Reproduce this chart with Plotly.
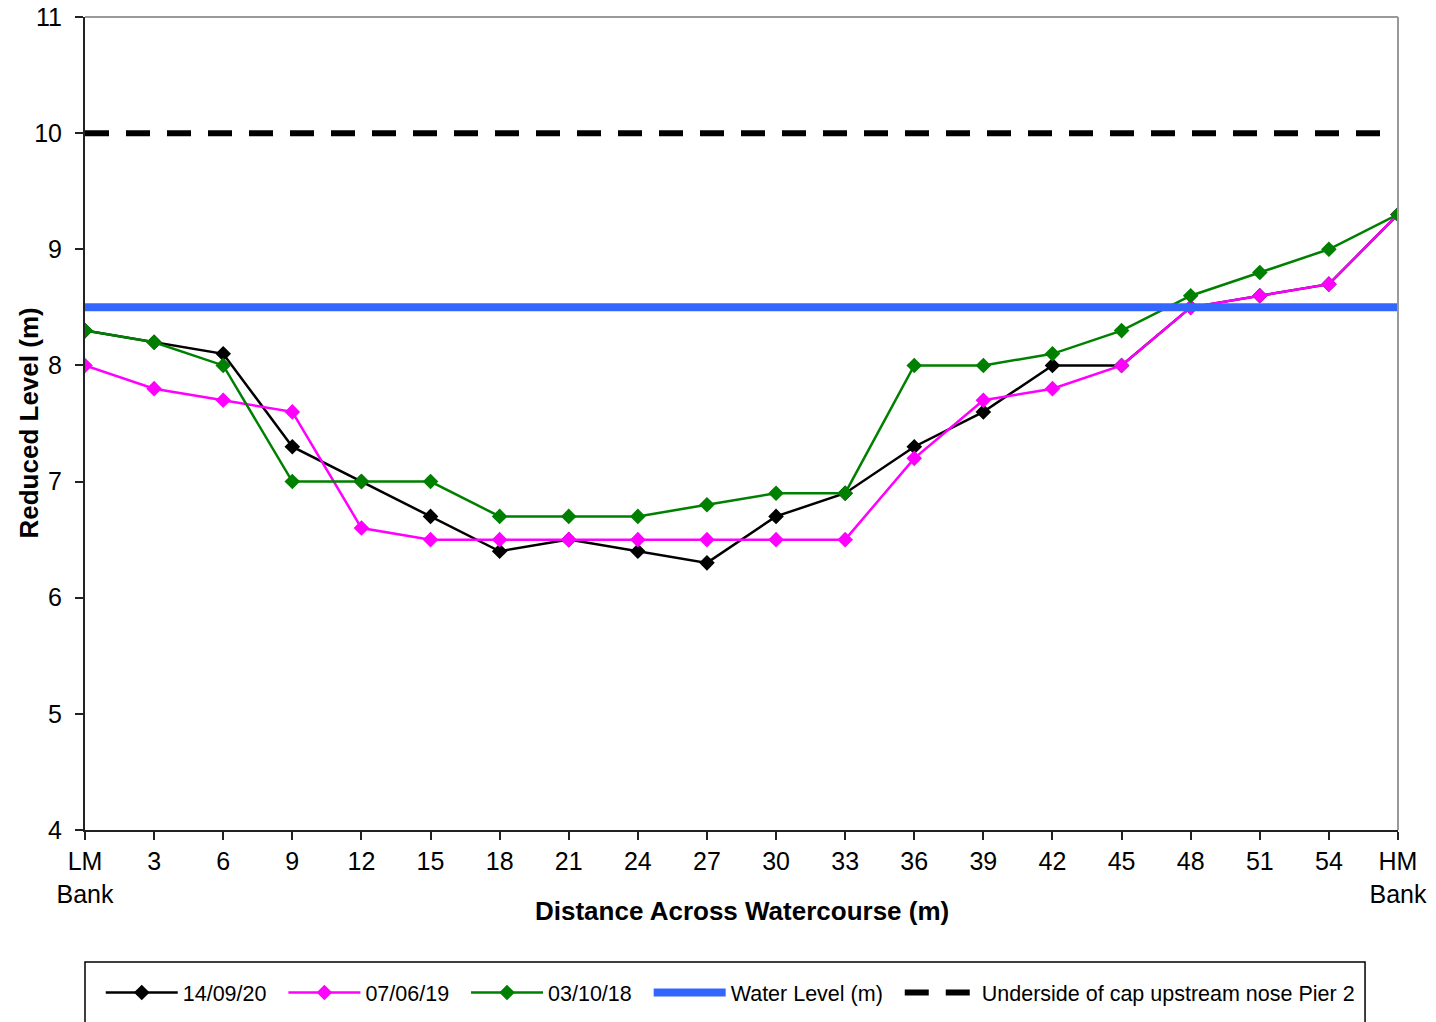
import plotly.graph_objects as go

distances = [0, 3, 6, 9, 12, 15, 18, 21, 24, 27, 30, 33, 36, 39, 42, 45, 48, 51, 54, 57]
tick_labels = ["LM<br>Bank", "3", "6", "9", "12", "15", "18", "21", "24", "27", "30",
               "33", "36", "39", "42", "45", "48", "51", "54", "HM<br>Bank"]

level_140920 = [8.3, 8.2, 8.1, 7.3, 7.0, 6.7, 6.4, 6.5, 6.4, 6.3, 6.7, 6.9, 7.3, 7.6, 8.0, 8.0, 8.5, 8.6, 8.7, 9.3]
level_070619 = [8.0, 7.8, 7.7, 7.6, 6.6, 6.5, 6.5, 6.5, 6.5, 6.5, 6.5, 6.5, 7.2, 7.7, 7.8, 8.0, 8.5, 8.6, 8.7, 9.3]
level_031018 = [8.3, 8.2, 8.0, 7.0, 7.0, 7.0, 6.7, 6.7, 6.7, 6.8, 6.9, 6.9, 8.0, 8.0, 8.1, 8.3, 8.6, 8.8, 9.0, 9.3]
water_level = 8.5
cap_level = 10.0

FONT = "Liberation Sans, Arial, sans-serif"
PAD = "\u00a0\u00a0"

fig = go.Figure()
for name, vals, col in [("14/09/20", level_140920, "#000000"),
                        ("07/06/19", level_070619, "#FF00FF"),
                        ("03/10/18", level_031018, "#008000")]:
    fig.add_trace(go.Scatter(x=distances, y=vals, name=name + PAD, mode="lines+markers",
                             line=dict(color=col, width=2.5),
                             marker=dict(symbol="diamond", size=12, color=col)))

fig.add_trace(go.Scatter(x=[distances[0], distances[-1]], y=[water_level, water_level],
                         name="Water Level (m)" + PAD, mode="lines",
                         line=dict(color="#3366FF", width=8)))
fig.add_trace(go.Scatter(x=[distances[0], distances[-1]], y=[cap_level, cap_level],
                         name="Underside of cap upstream nose Pier 2", mode="lines",
                         line=dict(color="#000000", width=6, dash="24px,17px")))

fig.update_layout(
    width=1436, height=1022,
    margin=dict(l=85, r=38, t=17, b=192, autoexpand=False),
    plot_bgcolor="white", paper_bgcolor="white",
    font=dict(family=FONT, size=25, color="black"),
    showlegend=True,
    legend=dict(orientation="h", x=0.012, xanchor="left", y=-0.1747, yanchor="top",
                borderwidth=0, bgcolor="rgba(0,0,0,0)",
                font=dict(size=21.5), itemwidth=72, tracegroupgap=0),
    xaxis=dict(range=[0, 57], tickmode="array", tickvals=distances, ticktext=tick_labels,
               automargin=False, ticklabeloverflow="allow",
               showgrid=False, zeroline=False, showline=True, linecolor="#222222", linewidth=2,
               ticks="outside", ticklen=8, tickwidth=2, tickcolor="#222222",
               tickfont=dict(size=25)),
    yaxis=dict(range=[4, 11], tickmode="linear", tick0=4, dtick=1,
               automargin=False, ticklabeloverflow="allow",
               showgrid=False, zeroline=False, showline=True, linecolor="#222222", linewidth=2,
               ticks="outside", ticklen=8, tickwidth=2, tickcolor="#222222",
               tickfont=dict(size=25), ticklabelstandoff=8),
    annotations=[
        dict(text="<b>Distance Across Watercourse (m)</b>", xref="paper", yref="paper",
             x=0.5, y=-0.0996, xanchor="center", yanchor="middle", showarrow=False,
             font=dict(size=26)),
        dict(text="<b>Reduced Level (m)</b>", xref="paper", yref="paper",
             x=-0.0434, y=0.5, xanchor="center", yanchor="middle", showarrow=False,
             textangle=-90, font=dict(size=26)),
    ],
    shapes=[
        dict(type="line", xref="paper", yref="paper", x0=0, x1=1, y0=1, y1=1,
             line=dict(color="#999999", width=2)),
        dict(type="line", xref="paper", yref="paper", x0=1, x1=1, y0=0, y1=1,
             line=dict(color="#999999", width=2)),
        dict(type="rect", xref="paper", yref="paper", x0=0, x1=0.9749, y0=-0.1624, y1=-0.27,
             line=dict(color="black", width=1.5)),
    ],
)

fig.write_html("out.html", config={"displayModeBar": False},
               post_script="document.body.style.margin='0px';document.body.style.overflow='hidden';")
